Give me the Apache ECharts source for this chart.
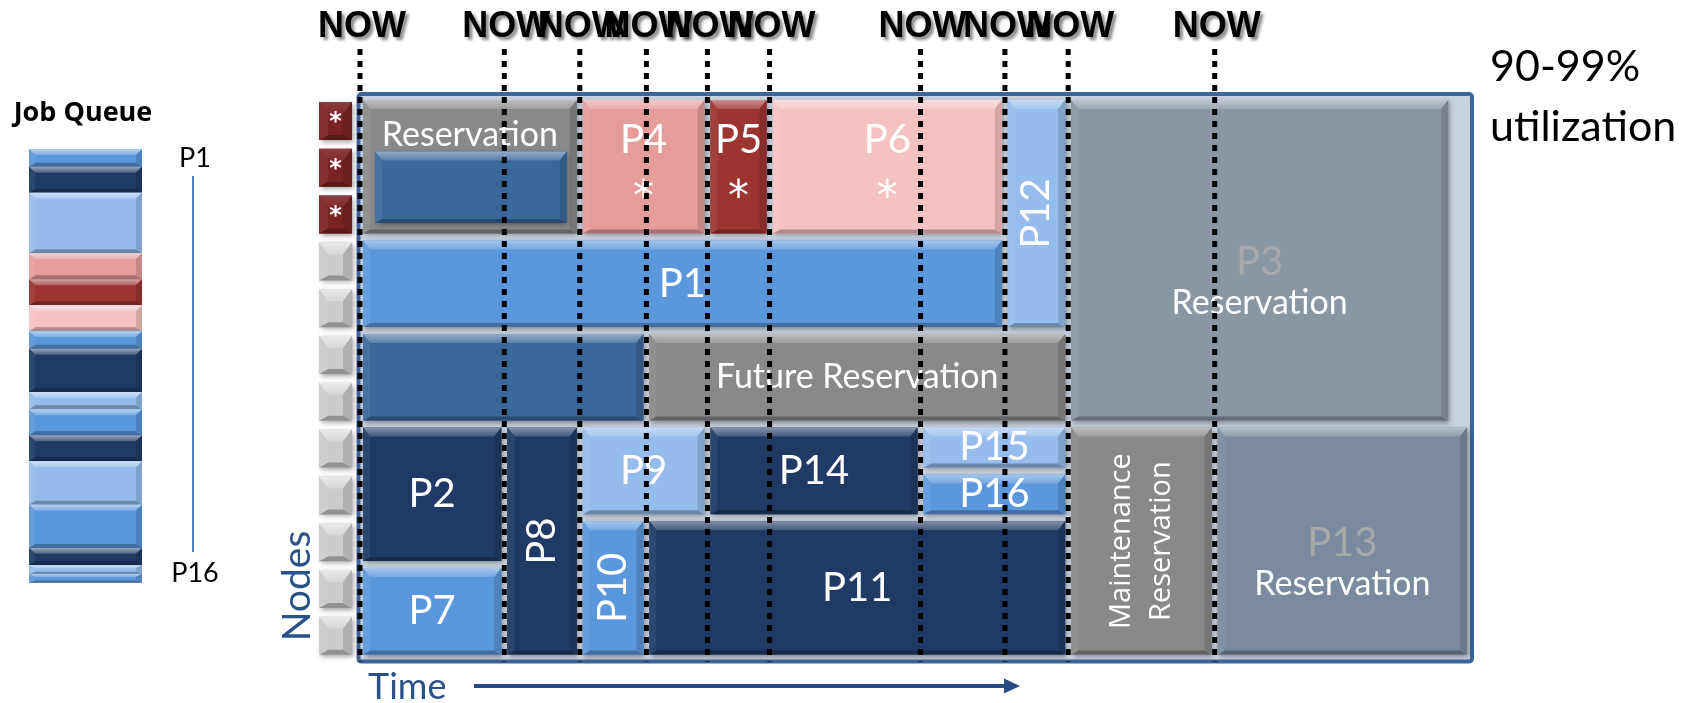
<!DOCTYPE html>
<html>
<head>
<meta charset="utf-8">
<script src="https://cdn.jsdelivr.net/npm/echarts@6/dist/echarts.min.js"></script>
<style>
  html, body { margin: 0; padding: 0; background: #ffffff; }
  #chart { width: 1699px; height: 703px; }
</style>
</head>
<body>
<div id="chart"></div>
<script>
// ---- Schedule data: time (0-100) runs left to right, node rows 0-12 top to bottom ----
const jobNames   = ['Reservation', '', 'P4', 'P5', 'P6', 'P12', 'P3', 'P1', '', 'Future Reservation',
                    'P2', 'P7', 'P8', 'P9', 'P10', 'P11', 'P14', 'P15', 'P16', 'Maintenance\nReservation', 'P13'];
const jobNotes   = ['', '', '*', '*', '*', '', 'Reservation', '', '', '',
                    '', '', '', '', '', '', '', '', '', '', 'Reservation'];
const jobStart   = [0, 1.1, 19.8, 31.3, 36.9, 58.1, 63.8, 0, 0, 25.8,
                    0, 0, 13, 19.8, 19.8, 25.8, 31.3, 50.5, 50.5, 63.8, 77];
const jobEnd     = [19.8, 18.9, 31.3, 36.9, 58.1, 63.8, 98.3, 58.1, 25.8, 63.8,
                    13, 13, 19.8, 31.3, 25.8, 63.8, 50.5, 63.8, 63.8, 77, 100];
const jobRowFrom = [0, 1.1, 0, 0, 0, 0, 0, 3, 5, 5,
                    7, 10, 7, 7, 9, 9, 7, 7, 8, 7, 7];
const jobRowTo   = [3, 2.78, 3, 3, 3, 5, 7, 5, 7, 7,
                    10, 12, 12, 9, 12, 12, 9, 8, 9, 12, 12];
const jobKind    = ['reserve', 'steel', 'pink', 'red', 'blush', 'sky', 'slate', 'blue', 'steel', 'reserve',
                    'navy', 'blue', 'navy', 'sky', 'blue', 'navy', 'navy', 'sky', 'blue', 'reserve', 'slateBlue'];

// scheduler passes ("NOW" moments)
const nowMarks = [0, 13, 19.8, 25.8, 31.3, 36.9, 50.5, 58.1, 63.8, 77];

// compute nodes
const nodeCount = 12;
const heldNodes = [0, 1, 2];

// job queue, in priority order
const queueNames = ['P1', 'P2', 'P3', 'P4', 'P5', 'P6', 'P7', 'P8', 'P9', 'P10', 'P11', 'P12', 'P13', 'P14', 'P15', 'P16'];
const queueSizes = [2, 3, 7, 3, 3, 3, 2, 5, 2, 3, 3, 5, 5, 2, 1, 1];
const queueKind  = ['blue', 'navy', 'sky', 'pink', 'red', 'blush', 'blue', 'navy', 'sky', 'blue', 'navy', 'sky', 'blue', 'navy', 'sky', 'blue'];

// ---- Styling ----
const PALETTE = {
  reserve: '#898989', steel: '#3c679b', pink: '#e59d9a', red: '#9c3431', blush: '#f3c2c1',
  sky: '#95bcec', blue: '#5b97dd', navy: '#1f3b65', slate: '#8b96a3', slateBlue: '#7a8ba1',
  nodeIdle: '#cbcbcb', nodeHeld: '#7b2323'
};
const LABEL_FONT = 'Lato';
const STAR_FONT = '"DejaVu Sans"';
const ROTATED = { 'P12': true, 'P8': true, 'P10': true, 'Maintenance\nReservation': true };

function mix(hex, to, t) {
  const a = parseInt(hex.slice(1), 16), b = parseInt(to.slice(1), 16);
  const ch = s => Math.round(((a >> s) & 255) * (1 - t) + ((b >> s) & 255) * t);
  return 'rgb(' + ch(16) + ',' + ch(8) + ',' + ch(0) + ')';
}

// bevelled box: flat face with a light top edge, darker bottom and shaded sides
function bevel(x, y, w, h, color, o) {
  const s = o.side, t = o.top, bt = o.bottom;
  return [
    { type: 'rect', shape: { x: x, y: y, width: w, height: h },
      style: o.shadow ? { fill: color, shadowBlur: 5, shadowColor: 'rgba(0,0,0,0.38)', shadowOffsetX: 1.5, shadowOffsetY: 2 }
                      : { fill: color } },
    { type: 'polygon', shape: { points: [[x, y], [x + w, y], [x + w - s, y + t], [x + s, y + t]] },
      style: { fill: new echarts.graphic.LinearGradient(0, 0, 0, 1, [
        { offset: 0, color: mix(color, '#ffffff', o.hi) },
        { offset: 1, color: mix(color, '#ffffff', o.hi * 0.35) }]) } },
    { type: 'polygon', shape: { points: [[x, y + h], [x + w, y + h], [x + w - s, y + h - bt], [x + s, y + h - bt]] },
      style: { fill: mix(color, '#000000', 0.28) } },
    { type: 'polygon', shape: { points: [[x, y], [x + s, y + t], [x + s, y + h - bt], [x, y + h]] },
      style: { fill: mix(color, '#ffffff', 0.06) } },
    { type: 'polygon', shape: { points: [[x + w, y], [x + w - s, y + t], [x + w - s, y + h - bt], [x + w, y + h]] },
      style: { fill: mix(color, '#000000', 0.14) } }
  ];
}

function textEl(str, cx, cy, font, fill, rotation, lineHeight) {
  return {
    type: 'text', x: cx, y: cy, rotation: rotation || 0,
    style: { text: str, x: 0, y: 0, font: font, fill: fill, lineHeight: lineHeight,
             align: 'center', verticalAlign: 'middle', textAlign: 'center', textVerticalAlign: 'middle' }
  };
}

function renderJob(params, api) {
  const i = api.value(4);
  const p0 = api.coord([api.value(0), api.value(2)]);
  const p1 = api.coord([api.value(1), api.value(3)]);
  const x = p0[0] + 3, y = p0[1] + 3, w = p1[0] - p0[0] - 6, h = p1[1] - p0[1] - 7;
  const color = PALETTE[jobKind[i]];
  const kids = bevel(x, y, w, h, color, { side: 7, top: 9, bottom: 4, hi: 0.45, shadow: true });
  const cx = x + w / 2, cy = y + h / 2;
  const name = jobNames[i], note = jobNotes[i];
  if (name) {
    const big = name.charAt(0) === 'P';
    let font = (big ? '40px ' : '34px ') + LABEL_FONT;
    let dy = 0, fill = '#ffffff', lh;
    if (note === '*') dy = -27;
    if (note === 'Reservation') { dy = 2; fill = '#a8a8a8'; }
    if (!big && i === 0) dy = -32;
    if (name.indexOf('\n') >= 0) { font = '29px "Open Sans"'; lh = 40; }
    kids.push(textEl(name, cx, cy + dy, font, fill, ROTATED[name] ? Math.PI / 2 : 0, lh));
    if (note === '*') kids.push(textEl('*', cx, cy + 32, '42px ' + STAR_FONT, '#ffffff'));
    if (note === 'Reservation') kids.push(textEl(note, cx, cy + 43, '34px ' + LABEL_FONT, '#ffffff'));
  }
  return { type: 'group', children: kids };
}

function renderFrame(params, api) {
  const a = api.coord([0, 0]), b = api.coord([100, 12]);
  return {
    type: 'rect',
    shape: { x: a[0] - 1.5, y: a[1] - 3, width: b[0] - a[0] + 3.5, height: b[1] - a[1] + 6, r: 3 },
    style: { fill: '#c9d3e0', stroke: '#3d6598', lineWidth: 4 }
  };
}

function renderNode(params, api) {
  const row = api.value(0), held = api.value(1);
  const p = api.coord([0, row]);
  const x = p[0] - 41, y = p[1] + 5, w = 33, h = 38;
  const color = held ? PALETTE.nodeHeld : PALETTE.nodeIdle;
  const kids = bevel(x, y, w, h, color, { side: 9, top: 12, bottom: 5, hi: held ? 0.12 : 0.6, shadow: true });
  if (held) kids.push(textEl('*', x + w / 2, y + 21, 'bold 24px ' + STAR_FONT, '#ffffff'));
  return { type: 'group', children: kids };
}

function renderNow(params, api) {
  const t = api.value(0);
  const top = api.coord([t, 0]), bot = api.coord([t, 12]);
  return {
    type: 'group',
    children: [
      { type: 'line', shape: { x1: top[0], y1: top[1] - 48, x2: bot[0], y2: bot[1] + 3 },
        style: { stroke: '#000000', lineWidth: 5, lineDash: [6, 6] } },
      { type: 'text', x: top[0] + 2, y: 27,
        style: { text: 'NOW', x: 0, y: 0, font: 'bold 36px "Liberation Sans"', fill: '#000000',
                 align: 'center', verticalAlign: 'middle', textAlign: 'center', textVerticalAlign: 'middle',
                 textShadowColor: 'rgba(0,0,0,0.45)', textShadowBlur: 3, textShadowOffsetX: 3, textShadowOffsetY: 3 } }
    ]
  };
}

function renderQueue(params, api) {
  const i = api.value(2);
  const a = api.coord([0, api.value(0)]), b = api.coord([1, api.value(1)]);
  const color = PALETTE[queueKind[i]];
  return { type: 'group', children: bevel(a[0], a[1], b[0] - a[0], b[1] - a[1], color,
    { side: 6, top: Math.min(6, (b[1] - a[1]) / 3), bottom: Math.min(4, (b[1] - a[1]) / 4), hi: 0.55, shadow: false }) };
}

const jobData = jobNames.map((n, i) => [jobStart[i], jobEnd[i], jobRowFrom[i], jobRowTo[i], i]);
const nodeData = Array.from({ length: nodeCount }, (_, r) => [r, heldNodes.indexOf(r) >= 0 ? 1 : 0]);
let acc = 0;
const queueData = queueSizes.map((s, i) => { const d = [acc, acc + s, i]; acc += s; return d; });
const queueTotal = acc;

const centered = { align: 'center', verticalAlign: 'middle', textAlign: 'center', textVerticalAlign: 'middle' };
const leftMid = { align: 'left', verticalAlign: 'middle', textAlign: 'left', textVerticalAlign: 'middle' };

const chart = echarts.init(document.getElementById('chart'));
chart.setOption({
  animation: false,
  backgroundColor: '#ffffff',
  grid: [
    { left: 360, top: 97, width: 1110, height: 561.6 },
    { left: 29, top: 149.3, width: 113, height: 433.4 }
  ],
  xAxis: [
    { type: 'value', gridIndex: 0, min: 0, max: 100, show: false },
    { type: 'value', gridIndex: 1, min: 0, max: 1, show: false }
  ],
  yAxis: [
    { type: 'value', gridIndex: 0, min: 0, max: nodeCount, inverse: true, show: false },
    { type: 'value', gridIndex: 1, min: 0, max: queueTotal, inverse: true, show: false }
  ],
  series: [
    { type: 'custom', name: 'frame', xAxisIndex: 0, yAxisIndex: 0, z: 1, data: [[0, 0]], renderItem: renderFrame, silent: true },
    { type: 'custom', name: 'jobs', xAxisIndex: 0, yAxisIndex: 0, z: 2, data: jobData, renderItem: renderJob,
      encode: { x: [0, 1], y: [2, 3] } },
    { type: 'custom', name: 'nodes', xAxisIndex: 0, yAxisIndex: 0, z: 2, data: nodeData, renderItem: renderNode,
      encode: { y: 0 } },
    { type: 'custom', name: 'now', xAxisIndex: 0, yAxisIndex: 0, z: 5, data: nowMarks.map(t => [t]), renderItem: renderNow,
      encode: { x: 0 } },
    { type: 'custom', name: 'queue', xAxisIndex: 1, yAxisIndex: 1, z: 2, data: queueData, renderItem: renderQueue,
      encode: { y: [0, 1] } }
  ],
  graphic: [
    { type: 'text', x: 83, y: 113, style: Object.assign({ text: 'Job Queue', font: 'bold 27px "Open Sans"', fill: '#000000' }, centered) },
    { type: 'text', x: 195, y: 158, style: Object.assign({ text: queueNames[0], font: '27px ' + LABEL_FONT, fill: '#000000' }, centered) },
    { type: 'text', x: 195, y: 573, style: Object.assign({ text: queueNames[queueNames.length - 1], font: '27px ' + LABEL_FONT, fill: '#000000' }, centered) },
    { type: 'line', shape: { x1: 193, y1: 176, x2: 193, y2: 552 }, style: { stroke: '#4a7ebb', lineWidth: 2 } },
    { type: 'text', x: 297, y: 586, rotation: Math.PI / 2, style: Object.assign({ text: 'Nodes', x: 0, y: 0, font: '39px ' + LABEL_FONT, fill: '#2a5288' }, centered) },
    { type: 'text', x: 368, y: 687, style: Object.assign({ text: 'Time', font: '36px ' + LABEL_FONT, fill: '#2a5288' }, leftMid) },
    { type: 'line', shape: { x1: 474, y1: 686, x2: 1006, y2: 686 }, style: { stroke: '#254b82', lineWidth: 4 } },
    { type: 'polygon', shape: { points: [[1004, 678.5], [1020, 686], [1004, 693.5]] }, style: { fill: '#254b82' } },
    { type: 'text', x: 1490, y: 67, style: Object.assign({ text: '90-99%', font: '43px ' + LABEL_FONT, fill: '#000000' }, leftMid) },
    { type: 'text', x: 1490, y: 127, style: Object.assign({ text: 'utilization', font: '43px ' + LABEL_FONT, fill: '#000000' }, leftMid) }
  ]
});
</script>
</body>
</html>
